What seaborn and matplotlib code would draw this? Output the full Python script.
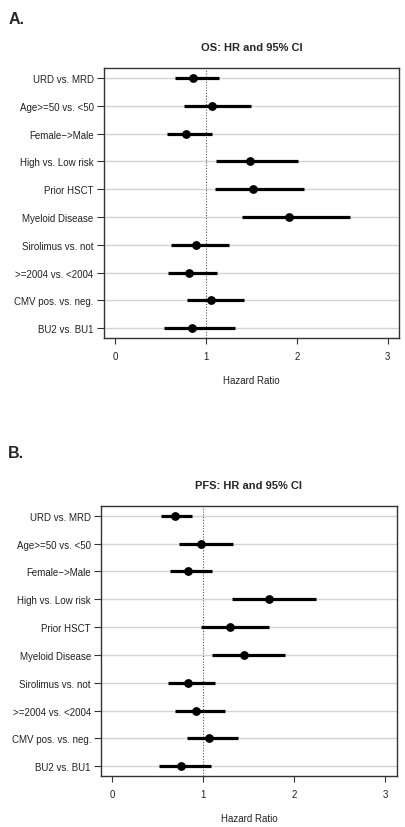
import pandas as pd
import seaborn as sns
import matplotlib.pyplot as plt

# covariates (top to bottom)
labels = ["URD vs. MRD", "Age>=50 vs. <50", "Female\u2212>Male", "High vs. Low risk",
          "Prior HSCT", "Myeloid Disease", "Sirolimus vs. not", ">=2004 vs. <2004",
          "CMV pos. vs. neg.", "BU2 vs. BU1"]

# panel A: overall survival
os_hr = [0.86, 1.07, 0.78, 1.49, 1.52, 1.91, 0.89, 0.81, 1.06, 0.85]
os_lo = [0.66, 0.76, 0.57, 1.11, 1.10, 1.40, 0.62, 0.58, 0.79, 0.54]
os_hi = [1.14, 1.50, 1.07, 2.01, 2.08, 2.59, 1.25, 1.12, 1.42, 1.32]

# panel B: progression-free survival
pfs_hr = [0.69, 0.98, 0.83, 1.72, 1.29, 1.45, 0.83, 0.92, 1.06, 0.75]
pfs_lo = [0.54, 0.73, 0.63, 1.32, 0.98, 1.10, 0.61, 0.69, 0.82, 0.51]
pfs_hi = [0.88, 1.33, 1.10, 2.24, 1.72, 1.90, 1.13, 1.24, 1.38, 1.09]

x_ticks = [0, 1, 2, 3]

sns.set_style("white")
plt.rcParams["font.family"] = ["Liberation Sans", "DejaVu Sans"]


def forest(ax, hr, lo, hi, title):
    df = pd.DataFrame({"label": labels, "hr": hr, "lo": lo, "hi": hi})
    sns.scatterplot(data=df, x="hr", y="label", ax=ax, color="black", s=40,
                    edgecolor="black", linewidth=0, zorder=4)
    ax.hlines(y=df["label"], xmin=df["lo"], xmax=df["hi"], color="black",
              linewidth=2.3, zorder=3)
    ax.axvline(1, color="#555555", linestyle=(0, (1, 1.5)), linewidth=0.8, zorder=2)
    ax.grid(axis="y", color="#d3d3d3", linewidth=1.0, zorder=1)
    ax.set_axisbelow(True)
    ax.set_xlim(-0.12, 3.125)
    ax.set_ylim(len(labels) - 1 + 0.35, -0.36)
    ax.set_xticks(x_ticks)
    ax.set_xticklabels([str(t) for t in x_ticks])
    ax.tick_params(axis="both", which="both", length=4, width=0.8, color="#333333",
                   labelsize=7, labelcolor="#222222", direction="out",
                   bottom=True, left=True)
    ax.tick_params(axis="x", pad=5.5)
    ax.tick_params(axis="y", length=5, pad=2.5)
    for sp in ax.spines.values():
        sp.set_color("#333333")
        sp.set_linewidth(1.0)
    ax.set_ylabel("")
    ax.set_xlabel("Hazard Ratio", fontsize=7, color="#222222", labelpad=10)
    ax.set_title(title, fontsize=8, fontweight="bold", pad=13)


fig = plt.figure(figsize=(4.06, 8.28), dpi=100)
ax_a = fig.add_axes([0.256, 0.5906, 0.727, 0.3261])
ax_b = fig.add_axes([0.2496, 0.0616, 0.7274, 0.3264])

forest(ax_a, os_hr, os_lo, os_hi, "OS: HR and 95% CI")
forest(ax_b, pfs_hr, pfs_lo, pfs_hi, "PFS: HR and 95% CI")

fig.text(0.02, 0.985, "A.", fontsize=11.5, fontweight="bold", va="top")
fig.text(0.02, 0.461, "B.", fontsize=11.5, fontweight="bold", va="top")

fig.savefig("out.png", dpi=100)
